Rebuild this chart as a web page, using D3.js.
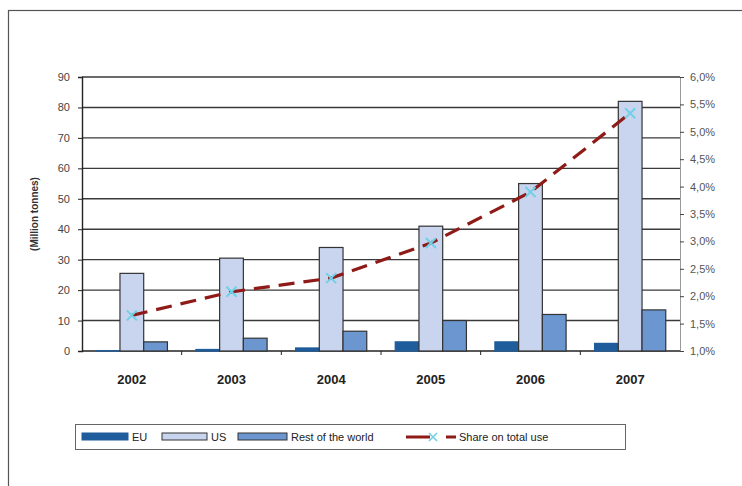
<!DOCTYPE html>
<html>
<head>
<meta charset="utf-8">
<script src="https://cdn.jsdelivr.net/npm/d3@7"></script>
<style>
  body { margin: 0; background: #fff; }
  svg { display: block; font-family: "Liberation Sans", Arial, sans-serif; }
</style>
</head>
<body>
<svg id="chart" width="742" height="486"></svg>
<script>
const years = ["2002", "2003", "2004", "2005", "2006", "2007"]
const euValues = [0.1, 0.5, 1.0, 3.0, 3.0, 2.5]
const usValues = [25.5, 30.5, 34, 41, 55, 82]
const rowValues = [3.0, 4.2, 6.5, 10, 12, 13.5]
const shareValues = [1.65, 2.08, 2.33, 2.97, 3.9, 5.34]
const leftTicks = [0, 10, 20, 30, 40, 50, 60, 70, 80, 90]
const rightTicks = [1.0, 1.5, 2.0, 2.5, 3.0, 3.5, 4.0, 4.5, 5.0, 5.5, 6.0]

const svg = d3.select("#chart")

// outer frame, cropped by the window
svg.append("rect")
    .attr("x", 8.5).attr("y", 10.5)
    .attr("width", 800).attr("height", 600)
    .attr("fill", "#fff")
    .attr("stroke", "#555").attr("stroke-width", 1.2)

const plotL = 82, plotR = 680, plotT = 77, plotB = 351

const x = d3.scaleBand().domain(years).range([plotL, plotR])
const xi = d3.scaleBand().domain(["eu", "us", "row"])
    .range([0, x.bandwidth()]).paddingOuter(0.6).paddingInner(0)
const y = d3.scaleLinear().domain([0, 90]).range([plotB, plotT])
const y2 = d3.scaleLinear().domain([1, 6]).range([plotB, plotT])

// gridlines
svg.append("g")
    .selectAll("line")
    .data(leftTicks.slice(1))
    .join("line")
    .attr("x1", plotL).attr("x2", plotR)
    .attr("y1", d => y(d)).attr("y2", d => y(d))
    .attr("stroke", "#3a3a3a").attr("stroke-width", 1.4)

// left axis
const yAxis = svg.append("g")
    .attr("transform", `translate(${plotL},0)`)
    .call(d3.axisLeft(y).tickValues(leftTicks).tickSize(4).tickPadding(8))
yAxis.select(".domain").attr("stroke", "#222").attr("stroke-width", 1.4)
yAxis.selectAll(".tick line").attr("stroke", "#222")
yAxis.selectAll("text").attr("font-size", 11).attr("fill", "#444")

// right axis
const yAxis2 = svg.append("g")
    .attr("transform", `translate(${plotR},0)`)
    .call(d3.axisRight(y2).tickValues(rightTicks).tickSize(4).tickPadding(6)
        .tickFormat(d => d.toFixed(1).replace(".", ",") + "%"))
yAxis2.select(".domain").attr("stroke", "#999")
yAxis2.selectAll(".tick line").attr("stroke", "#444")
yAxis2.selectAll("text").attr("font-size", 11).attr("fill", "#555")

// bottom axis
svg.append("line")
    .attr("x1", plotL).attr("x2", plotR)
    .attr("y1", plotB).attr("y2", plotB)
    .attr("stroke", "#222").attr("stroke-width", 1.4)
svg.append("g")
    .selectAll("line")
    .data(years.slice(1))
    .join("line")
    .attr("x1", d => x(d)).attr("x2", d => x(d))
    .attr("y1", plotB).attr("y2", plotB + 4)
    .attr("stroke", "#222")
svg.append("g")
    .selectAll("text")
    .data(years)
    .join("text")
    .attr("x", d => x(d) + x.bandwidth() / 2)
    .attr("y", plotB + 33)
    .attr("text-anchor", "middle")
    .attr("font-size", 13).attr("font-weight", "bold").attr("fill", "#222")
    .text(d => d)

// axis title
svg.append("text")
    .attr("transform", `translate(38,${(plotT + plotB) / 2}) rotate(-90)`)
    .attr("text-anchor", "middle")
    .attr("font-size", 10).attr("font-weight", "bold").attr("fill", "#333")
    .text("(Million tonnes)")

// bars
const series = [
    { key: "eu", values: euValues, fill: "#1f5c9c", stroke: "#1f5c9c" },
    { key: "us", values: usValues, fill: "#c9d5ef", stroke: "#333" },
    { key: "row", values: rowValues, fill: "#6b96d0", stroke: "#333" }
]
series.forEach(s => {
    svg.append("g")
        .selectAll("rect")
        .data(years)
        .join("rect")
        .attr("x", d => x(d) + xi(s.key))
        .attr("width", xi.bandwidth())
        .attr("y", (d, i) => y(s.values[i]))
        .attr("height", (d, i) => plotB - y(s.values[i]))
        .attr("fill", s.fill)
        .attr("stroke", s.stroke).attr("stroke-width", 1.2)
})

// share line
const line = d3.line()
    .x((d, i) => x(years[i]) + x.bandwidth() / 2)
    .y(d => y2(d))
svg.append("path")
    .datum(shareValues)
    .attr("d", line)
    .attr("fill", "none")
    .attr("stroke", "#8e1b17").attr("stroke-width", 3.2)
    .attr("stroke-dasharray", "16,9")

const markers = svg.append("g")
    .selectAll("g")
    .data(shareValues)
    .join("g")
    .attr("transform", (d, i) => `translate(${x(years[i]) + x.bandwidth() / 2},${y2(d)})`)
markers.append("path")
    .attr("d", "M-5,-5L5,5M-5,5L5,-5")
    .attr("stroke", "#6fd0e6").attr("stroke-width", 2)

// legend
const lg = svg.append("g")
lg.append("rect")
    .attr("x", 75.5).attr("y", 424.5)
    .attr("width", 550).attr("height", 25)
    .attr("fill", "#fff").attr("stroke", "#666")

const legendItems = [
    { label: "EU", x: 82, w: 46, fill: "#1f5c9c", stroke: "#1f5c9c" },
    { label: "US", x: 162, w: 45, fill: "#c9d5ef", stroke: "#333" },
    { label: "Rest of the world", x: 238, w: 49, fill: "#6b96d0", stroke: "#333" }
]
legendItems.forEach(it => {
    lg.append("rect")
        .attr("x", it.x).attr("y", 433).attr("width", it.w).attr("height", 7)
        .attr("fill", it.fill).attr("stroke", it.stroke)
    lg.append("text")
        .attr("x", it.x + it.w + 4).attr("y", 441)
        .attr("font-size", 11).attr("fill", "#222")
        .text(it.label)
})
lg.append("line")
    .attr("x1", 406).attr("x2", 430).attr("y1", 437).attr("y2", 437)
    .attr("stroke", "#8e1b17").attr("stroke-width", 3)
lg.append("path")
    .attr("transform", "translate(433,437)")
    .attr("d", "M-4,-4L4,4M-4,4L4,-4")
    .attr("stroke", "#6fd0e6").attr("stroke-width", 1.6)
lg.append("line")
    .attr("x1", 446).attr("x2", 456).attr("y1", 437).attr("y2", 437)
    .attr("stroke", "#8e1b17").attr("stroke-width", 3)
lg.append("text")
    .attr("x", 459).attr("y", 441)
    .attr("font-size", 11).attr("fill", "#222")
    .text("Share on total use")
</script>
</body>
</html>
